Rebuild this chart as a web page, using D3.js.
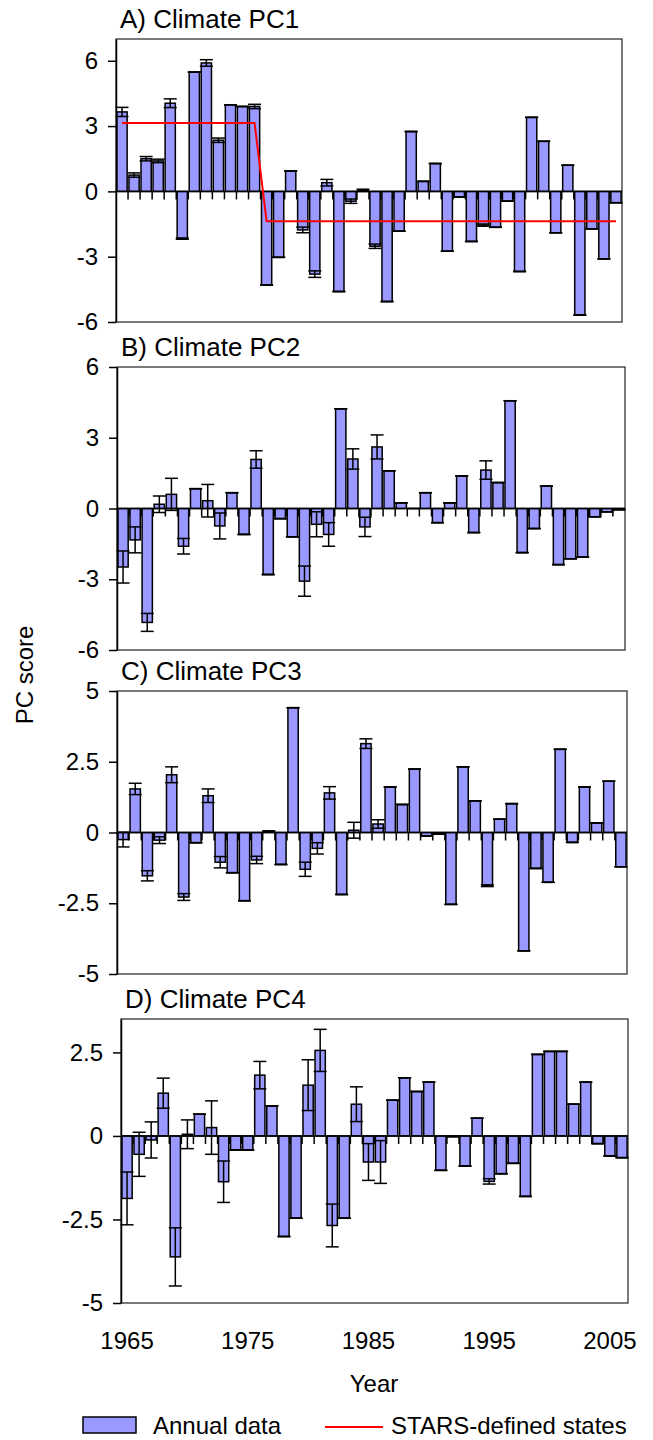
<!DOCTYPE html>
<html>
<head>
<meta charset="utf-8">
<script src="https://cdn.jsdelivr.net/npm/d3@7"></script>
<style>
  body { margin: 0; background: #fff; }
  svg text { font-family: "Liberation Sans", Arial, sans-serif; fill: #000; }
</style>
</head>
<body>
<svg id="chart" width="653" height="1440"></svg>
<script>
// categories
const years = [1965, 1966, 1967, 1968, 1969, 1970, 1971, 1972, 1973, 1974,
  1975, 1976, 1977, 1978, 1979, 1980, 1981, 1982, 1983, 1984,
  1985, 1986, 1987, 1988, 1989, 1990, 1991, 1992, 1993, 1994,
  1995, 1996, 1997, 1998, 1999, 2000, 2001, 2002, 2003, 2004,
  2005, 2006];
const yearLabels = [1965, 1975, 1985, 1995, 2005];

// annual PC scores and their error bars
const pc1 = [3.65, 0.75, 1.5, 1.4, 4.05, -2.17, 5.48, 5.9, 2.35, 3.98,
  3.9, 3.9, -4.3, -3.03, 0.94, -1.77, -3.8, 0.4, -4.6, -0.45,
  0.05, -2.52, -5.06, -1.83, 2.75, 0.46, 1.28, -2.75, -0.26, -2.3,
  -1.55, -1.65, -0.45, -3.68, 3.4, 2.3, -1.9, 1.2, -5.68, -1.72,
  -3.1, -0.52];
const pc1Err = [0.21, 0.1, 0.1, 0.08, 0.2, 0.03, 0, 0.15, 0.1, 0,
  0, 0.1, 0, 0, 0, 0.13, 0.15, 0.15, 0, 0.1,
  0.05, 0.1, 0, 0, 0, 0, 0, 0, 0, 0,
  0.05, 0, 0, 0, 0, 0, 0, 0, 0, 0,
  0, 0];

const pc2 = [-2.48, -1.33, -4.83, 0.18, 0.6, -1.6, 0.84, 0.33, -0.74, 0.67,
  -1.1, 2.08, -2.8, -0.43, -1.2, -3.08, -0.67, -1.1, 4.23, 2.1,
  -0.78, 2.61, 1.6, 0.24, 0, 0.67, -0.6, 0.24, 1.38, -1.02,
  1.63, 1.1, 4.57, -1.87, -0.85, 0.95, -2.38, -2.13, -2.06, -0.35,
  -0.14, -0.05];
const pc2Err = [0.68, 0.55, 0.38, 0.35, 0.68, 0.33, 0, 0.69, 0.55, 0,
  0, 0.37, 0, 0, 0, 0.64, 0.53, 0.5, 0, 0.43,
  0.41, 0.51, 0, 0, 0, 0, 0, 0, 0, 0,
  0.39, 0, 0, 0, 0, 0, 0, 0, 0, 0,
  0, 0];

const pc3 = [-0.25, 1.54, -1.53, -0.27, 2.04, -2.28, -0.36, 1.3, -1.05, -1.42,
  -2.41, -0.97, 0.05, -1.13, 4.41, -1.3, -0.56, 1.4, -2.19, 0.08,
  3.14, 0.3, 1.61, 0.99, 2.24, -0.12, -0.06, -2.54, 2.32, 1.12,
  -1.88, 0.47, 1.02, -4.18, -1.27, -1.76, 2.94, -0.35, 1.61, 0.34,
  1.81, -1.21];
const pc3Err = [0.26, 0.2, 0.18, 0.12, 0.28, 0.12, 0, 0.24, 0.2, 0,
  0, 0.13, 0, 0, 0, 0.25, 0.2, 0.22, 0, 0.28,
  0.17, 0.15, 0, 0, 0, 0, 0, 0, 0, 0,
  0.03, 0, 0, 0, 0, 0, 0, 0, 0, 0,
  0, 0];

const pc4 = [-1.87, -0.55, -0.12, 1.28, -3.62, 0.05, 0.65, 0.25, -1.37, -0.42,
  -0.42, 1.82, 0.9, -3.01, -2.46, 1.52, 2.56, -2.68, -2.46, 0.95,
  -0.78, -0.78, 1.07, 1.74, 1.33, 1.61, -1.03, -0.02, -0.9, 0.53,
  -1.36, -1.13, -0.82, -1.81, 2.44, 2.53, 2.53, 0.95, 1.61, -0.23,
  -0.6, -0.65];
const pc4Err = [0.79, 0.66, 0.54, 0.45, 0.87, 0.43, 0, 0.8, 0.62, 0,
  0, 0.41, 0, 0, 0, 0.76, 0.63, 0.64, 0, 0.52,
  0.55, 0.64, 0, 0, 0, 0, 0, 0, 0, 0,
  0.08, 0, 0, 0, 0, 0, 0, 0, 0, 0,
  0, 0];

// STARS regime means for PC1
const starsYears = [1965, 1976, 1977, 2006];
const starsValues = [3.14, 3.14, -1.37, -1.37];

const titles = ["A) Climate PC1", "B) Climate PC2", "C) Climate PC3", "D) Climate PC4"];
const yDomains = [[-6, 7], [-6, 6], [-5, 5], [-5, 3.5]];
const yTicks = [[-6, -3, 0, 3, 6], [-6, -3, 0, 3, 6], [-5, -2.5, 0, 2.5, 5], [-5, -2.5, 0, 2.5]];

const barFill = "#9999FF";
const fontSize = 24;

// layout of each panel's plot area
const boxes = [
  { left: 116, right: 622, top: 39, bottom: 322 },
  { left: 117, right: 625, top: 367, bottom: 650 },
  { left: 117, right: 627, top: 691, bottom: 974 },
  { left: 121, right: 628, top: 1019, bottom: 1303 }
];
const series = [pc1, pc2, pc3, pc4];
const errors = [pc1Err, pc2Err, pc3Err, pc4Err];

const svg = d3.select("#chart");

series.forEach((vals, p) => {
  const b = boxes[p];
  const g = svg.append("g");

  const x = d3.scaleBand().domain(years).range([b.left, b.right])
    .paddingInner(0.15).paddingOuter(0.075);
  const y = d3.scaleLinear().domain(yDomains[p]).range([b.bottom, b.top]);
  const step = x.step();
  const bw = x.bandwidth();

  // plot frame
  g.append("rect")
    .attr("x", b.left).attr("y", b.top)
    .attr("width", b.right - b.left).attr("height", b.bottom - b.top)
    .attr("fill", "none").attr("stroke", "#333").attr("stroke-width", 1.3);

  // category tick marks hanging under the zero line
  g.append("g").selectAll("line")
    .data(years.slice(1))
    .enter().append("line")
    .attr("x1", d => x(d) + bw / 2 - step / 2)
    .attr("x2", d => x(d) + bw / 2 - step / 2)
    .attr("y1", y(0)).attr("y2", y(0) + 8)
    .attr("stroke", "#000").attr("stroke-width", 1.5);

  // bars
  g.append("g").selectAll("rect")
    .data(vals)
    .enter().append("rect")
    .attr("x", (d, i) => x(years[i]))
    .attr("width", bw)
    .attr("y", d => y(Math.max(0, d)))
    .attr("height", d => Math.abs(y(d) - y(0)))
    .attr("fill", barFill)
    .attr("stroke", "#000").attr("stroke-width", 1.5);

  // zero line
  g.append("line")
    .attr("x1", b.left).attr("x2", b.right)
    .attr("y1", y(0)).attr("y2", y(0))
    .attr("stroke", "#000").attr("stroke-width", 1.5);

  // error bars with caps
  const eb = g.append("g").attr("stroke", "#000").attr("stroke-width", 1.5);
  vals.forEach((v, i) => {
    const cx = x(years[i]) + bw / 2;
    const e = errors[p][i];
    eb.append("line").attr("x1", cx).attr("x2", cx)
      .attr("y1", y(v + e)).attr("y2", y(v - e));
    [v + e, v - e].forEach(t => {
      eb.append("line").attr("x1", cx - 6.5).attr("x2", cx + 6.5)
        .attr("y1", y(t)).attr("y2", y(t));
    });
  });

  // y axis
  const ax = g.append("g")
    .attr("transform", `translate(${b.left},0)`)
    .call(d3.axisLeft(y).tickValues(yTicks[p]).tickSize(8).tickSizeOuter(0)
      .tickPadding(10).tickFormat(d => String(d)));
  ax.select(".domain").attr("stroke", "#000").attr("stroke-width", 1.5);
  ax.selectAll(".tick line").attr("stroke", "#000").attr("stroke-width", 1.5);
  ax.selectAll("text").attr("font-size", fontSize)
    .attr("font-family", "Liberation Sans, Arial, sans-serif");

  // panel title
  g.append("text")
    .attr("x", b.left + 4).attr("y", b.top - 11)
    .attr("font-size", 26)
    .text(titles[p]);

  // STARS line for PC1
  if (p === 0) {
    const line = d3.line()
      .x(d => x(d[0]) + bw / 2)
      .y(d => y(d[1]));
    g.append("path")
      .datum(starsYears.map((yr, i) => [yr, starsValues[i]]))
      .attr("d", line)
      .attr("fill", "none").attr("stroke", "#FF0000").attr("stroke-width", 2);
  }

  // year labels under last panel
  if (p === 3) {
    const xa = g.append("g")
      .attr("transform", `translate(0,${b.bottom})`)
      .call(d3.axisBottom(x).tickValues(yearLabels).tickSize(0).tickPadding(29));
    xa.select(".domain").remove();
    xa.selectAll("text").attr("font-size", fontSize)
      .attr("font-family", "Liberation Sans, Arial, sans-serif");
  }
});

// axis titles
svg.append("text")
  .attr("transform", "translate(33,675) rotate(-90)")
  .attr("text-anchor", "middle")
  .attr("font-size", fontSize)
  .text("PC score");

svg.append("text")
  .attr("x", 374).attr("y", 1392)
  .attr("text-anchor", "middle")
  .attr("font-size", fontSize)
  .text("Year");

// legend
const legend = svg.append("g");
legend.append("rect")
  .attr("x", 83).attr("y", 1417).attr("width", 53).attr("height", 16)
  .attr("fill", barFill).attr("stroke", "#000").attr("stroke-width", 1.5);
legend.append("text")
  .attr("x", 153).attr("y", 1434)
  .attr("font-size", fontSize)
  .text("Annual data");
legend.append("line")
  .attr("x1", 325).attr("x2", 383).attr("y1", 1427).attr("y2", 1427)
  .attr("stroke", "#FF0000").attr("stroke-width", 2);
legend.append("text")
  .attr("x", 391).attr("y", 1434)
  .attr("font-size", fontSize)
  .text("STARS-defined states");
</script>
</body>
</html>
